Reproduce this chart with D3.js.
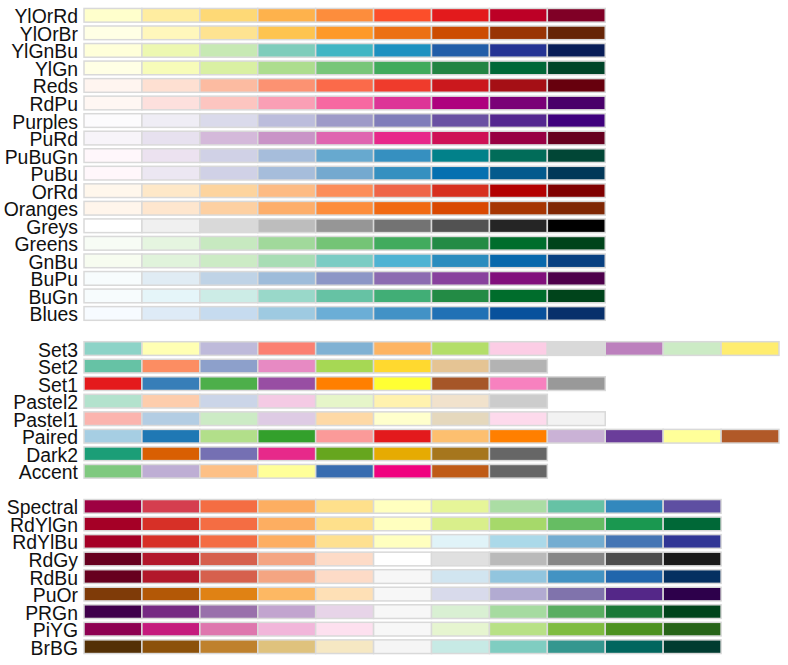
<!DOCTYPE html>
<html>
<head>
<meta charset="utf-8">
<script src="https://d3js.org/d3.v7.min.js"></script>
<style>
html, body { margin: 0; background: #fff; }
svg { display: block; }
text { font-family: "Liberation Sans", Arial, sans-serif; font-size: 19.4px; fill: #111; }
</style>
</head>
<body>
<script>
// sequential palettes, top to bottom
var seqNames = ["YlOrRd","YlOrBr","YlGnBu","YlGn","Reds","RdPu","Purples","PuRd","PuBuGn","PuBu","OrRd","Oranges","Greys","Greens","GnBu","BuPu","BuGn","Blues"];
var YlOrRd = ["#ffffcc","#ffeda0","#fed976","#feb24c","#fd8d3c","#fc4e2a","#e31a1c","#bd0026","#800026"];
var YlOrBr = ["#ffffe5","#fff7bc","#fee391","#fec44f","#fe9929","#ec7014","#cc4c02","#993404","#662506"];
var YlGnBu = ["#ffffd9","#edf8b1","#c7e9b4","#7fcdbb","#41b6c4","#1d91c0","#225ea8","#253494","#081d58"];
var YlGn = ["#ffffe5","#f7fcb9","#d9f0a3","#addd8e","#78c679","#41ab5d","#238443","#006837","#004529"];
var Reds = ["#fff5f0","#fee0d2","#fcbba1","#fc9272","#fb6a4a","#ef3b2c","#cb181d","#a50f15","#67000d"];
var RdPu = ["#fff7f3","#fde0dd","#fcc5c0","#fa9fb5","#f768a1","#dd3497","#ae017e","#7a0177","#49006a"];
var Purples = ["#fcfbfd","#efedf5","#dadaeb","#bcbddc","#9e9ac8","#807dba","#6a51a3","#54278f","#3f007d"];
var PuRd = ["#f7f4f9","#e7e1ef","#d4b9da","#c994c7","#df65b0","#e7298a","#ce1256","#980043","#67001f"];
var PuBuGn = ["#fff7fb","#ece2f0","#d0d1e6","#a6bddb","#67a9cf","#3690c0","#02818a","#016c59","#014636"];
var PuBu = ["#fff7fb","#ece7f2","#d0d1e6","#a6bddb","#74a9cf","#3690c0","#0570b0","#045a8d","#023858"];
var OrRd = ["#fff7ec","#fee8c8","#fdd49e","#fdbb84","#fc8d59","#ef6548","#d7301f","#b30000","#7f0000"];
var Oranges = ["#fff5eb","#fee6ce","#fdd0a2","#fdae6b","#fd8d3c","#f16913","#d94801","#a63603","#7f2704"];
var Greys = ["#ffffff","#f0f0f0","#d9d9d9","#bdbdbd","#969696","#737373","#525252","#252525","#000000"];
var Greens = ["#f7fcf5","#e5f5e0","#c7e9c0","#a1d99b","#74c476","#41ab5d","#238b45","#006d2c","#00441b"];
var GnBu = ["#f7fcf0","#e0f3db","#ccebc5","#a8ddb5","#7bccc4","#4eb3d3","#2b8cbe","#0868ac","#084081"];
var BuPu = ["#f7fcfd","#e0ecf4","#bfd3e6","#9ebcda","#8c96c6","#8c6bb1","#88419d","#810f7c","#4d004b"];
var BuGn = ["#f7fcfd","#e5f5f9","#ccece6","#99d8c9","#66c2a4","#41ae76","#238b45","#006d2c","#00441b"];
var Blues = ["#f7fbff","#deebf7","#c6dbef","#9ecae1","#6baed6","#4292c6","#2171b5","#08519c","#08306b"];

// qualitative palettes
var qualNames = ["Set3","Set2","Set1","Pastel2","Pastel1","Paired","Dark2","Accent"];
var Set3 = ["#8dd3c7","#ffffb3","#bebada","#fb8072","#80b1d3","#fdb462","#b3de69","#fccde5","#d9d9d9","#bc80bd","#ccebc5","#ffed6f"];
var Set2 = ["#66c2a5","#fc8d62","#8da0cb","#e78ac3","#a6d854","#ffd92f","#e5c494","#b3b3b3"];
var Set1 = ["#e41a1c","#377eb8","#4daf4a","#984ea3","#ff7f00","#ffff33","#a65628","#f781bf","#999999"];
var Pastel2 = ["#b3e2cd","#fdcdac","#cbd5e8","#f4cae4","#e6f5c9","#fff2ae","#f1e2cc","#cccccc"];
var Pastel1 = ["#fbb4ae","#b3cde3","#ccebc5","#decbe4","#fed9a6","#ffffcc","#e5d8bd","#fddaec","#f2f2f2"];
var Paired = ["#a6cee3","#1f78b4","#b2df8a","#33a02c","#fb9a99","#e31a1c","#fdbf6f","#ff7f00","#cab2d6","#6a3d9a","#ffff99","#b15928"];
var Dark2 = ["#1b9e77","#d95f02","#7570b3","#e7298a","#66a61e","#e6ab02","#a6761d","#666666"];
var Accent = ["#7fc97f","#beaed4","#fdc086","#ffff99","#386cb0","#f0027f","#bf5b17","#666666"];

// diverging palettes
var divNames = ["Spectral","RdYlGn","RdYlBu","RdGy","RdBu","PuOr","PRGn","PiYG","BrBG"];
var Spectral = ["#9e0142","#d53e4f","#f46d43","#fdae61","#fee08b","#ffffbf","#e6f598","#abdda4","#66c2a5","#3288bd","#5e4fa2"];
var RdYlGn = ["#a50026","#d73027","#f46d43","#fdae61","#fee08b","#ffffbf","#d9ef8b","#a6d96a","#66bd63","#1a9850","#006837"];
var RdYlBu = ["#a50026","#d73027","#f46d43","#fdae61","#fee090","#ffffbf","#e0f3f8","#abd9e9","#74add1","#4575b4","#313695"];
var RdGy = ["#67001f","#b2182b","#d6604d","#f4a582","#fddbc7","#ffffff","#e0e0e0","#bababa","#878787","#4d4d4d","#1a1a1a"];
var RdBu = ["#67001f","#b2182b","#d6604d","#f4a582","#fddbc7","#f7f7f7","#d1e5f0","#92c5de","#4393c3","#2166ac","#053061"];
var PuOr = ["#7f3b08","#b35806","#e08214","#fdb863","#fee0b6","#f7f7f7","#d8daeb","#b2abd2","#8073ac","#542788","#2d004b"];
var PRGn = ["#40004b","#762a83","#9970ab","#c2a5cf","#e7d4e8","#f7f7f7","#d9f0d3","#a6dba0","#5aae61","#1b7837","#00441b"];
var PiYG = ["#8e0152","#c51b7d","#de77ae","#f1b6da","#fde0ef","#f7f7f7","#e6f5d0","#b8e186","#7fbc41","#4d9221","#276419"];
var BrBG = ["#543005","#8c510a","#bf812d","#dfc27d","#f6e8c3","#f5f5f5","#c7eae5","#80cdc1","#35978f","#01665e","#003c30"];

var palettes = {
	YlOrRd, YlOrBr, YlGnBu, YlGn, Reds, RdPu, Purples, PuRd, PuBuGn, PuBu, OrRd, Oranges, Greys, Greens, GnBu, BuPu, BuGn, Blues,
	Set3, Set2, Set1, Pastel2, Pastel1, Paired, Dark2, Accent,
	Spectral, RdYlGn, RdYlBu, RdGy, RdBu, PuOr, PRGn, PiYG, BrBG
};

var w = 788;
var h = 665;

// one empty row between the three groups
var rowOrder = seqNames.concat([""], qualNames, [""], divNames);
var rows = rowOrder
	.map(function(name, i){ return {name: name, idx: i}; })
	.filter(function(d){ return d.name !== ""; });

var xScale = d3.scaleLinear().domain([0, 12]).range([84, 779]);
var yScale = d3.scaleLinear().domain([0, rowOrder.length - 1]).range([15.3, 646.7]);
var cellH = yScale(0.78) - yScale(0);

var svg = d3.select("body").append("svg").attr("width", w).attr("height", h);

var row = svg.selectAll("g.row")
	.data(rows)
	.enter()
	.append("g")
	.attr("class", "row")
	.attr("transform", function(d){ return "translate(0," + yScale(d.idx) + ")"; });

row.selectAll("rect")
	.data(function(d){ return palettes[d.name]; })
	.enter()
	.append("rect")
	.attr("x", function(d, i){ return xScale(i); })
	.attr("y", -cellH / 2)
	.attr("width", xScale(1) - xScale(0))
	.attr("height", cellH)
	.attr("fill", function(d){ return d; })
	.attr("stroke", "#d9d9d9")
	.attr("stroke-width", 1.5);

row.append("text")
	.attr("x", 78)
	.attr("y", 8)
	.attr("text-anchor", "end")
	.text(function(d){ return d.name; });
</script>
</body>
</html>
